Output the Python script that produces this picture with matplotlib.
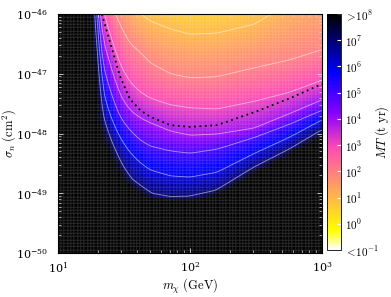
import numpy as np
import matplotlib
matplotlib.use('Agg')
import matplotlib.pyplot as plt
from matplotlib.colors import LogNorm

plt.rcParams['mathtext.fontset'] = 'cm'
plt.rcParams['font.family'] = 'serif'
plt.rcParams['font.serif'] = ['DejaVu Serif']

# exposure levels, log10(MT / t yr)
levels = [-1, 0, 1, 2, 3, 4, 5, 6, 7, 8]

# WIMP masses (GeV) where the iso-exposure curves were read
mass = [10, 18.5, 19.7, 21.5, 24.8, 29.5, 35, 42, 50, 71, 100, 160, 310, 570, 1000]

# log10(sigma_n / cm^2) of each iso-exposure curve, one row per mass, one column per level
iso_sigma = [
    [-37.40, -37.73, -38.07, -38.40, -38.74, -39.07, -39.41, -39.74, -40.08, -40.75],
    [-40.41, -41.41, -42.42, -43.26, -43.76, -44.09, -44.34, -44.59, -44.85, -45.10],
    [-41.75, -42.75, -43.76, -44.76, -45.26, -45.60, -45.85, -46.10, -46.35, -46.60],
    [-42.25, -43.26, -44.26, -45.26, -45.85, -46.35, -46.77, -47.19, -47.69, -47.85],
    [-42.92, -43.93, -44.85, -45.77, -46.35, -46.85, -47.27, -47.69, -48.11, -48.25],
    [-43.51, -44.51, -45.52, -46.18, -46.85, -47.36, -47.72, -48.06, -48.49, -48.60],
    [-43.76, -44.76, -45.77, -46.49, -47.14, -47.61, -47.94, -48.31, -48.75, -48.85],
    [-44.01, -45.01, -46.00, -46.64, -47.31, -47.74, -48.11, -48.49, -48.88, -48.97],
    [-44.18, -45.18, -46.12, -46.82, -47.41, -47.82, -48.21, -48.61, -49.00, -49.08],
    [-44.43, -45.43, -46.25, -47.00, -47.52, -47.96, -48.29, -48.71, -49.06, -49.14],
    [-44.51, -45.52, -46.34, -47.07, -47.57, -48.03, -48.33, -48.73, -49.05, -49.13],
    [-44.49, -45.50, -46.32, -47.05, -47.59, -48.01, -48.26, -48.65, -48.95, -49.03],
    [-44.26, -45.26, -46.17, -46.90, -47.46, -47.91, -48.06, -48.33, -48.56, -48.65],
    [-43.84, -44.85, -45.80, -46.77, -47.31, -47.67, -47.84, -48.06, -48.26, -48.35],
    [-43.42, -44.43, -45.43, -46.60, -47.11, -47.44, -47.61, -47.77, -47.94, -48.03],
]

# dotted reference curve
dot_mass = [21.5, 24.8, 29.5, 35, 42, 50, 71, 100, 160, 310, 570, 1000]
dot_sigma = [-46.00, -46.47, -47.04, -47.42, -47.61, -47.72, -47.86, -47.89,
             -47.86, -47.64, -47.41, -47.17]

logm_tab = np.log10(mass)
sig_tab = np.array(iso_sigma)

# log10(MT) on a fine grid, lightly smoothed along mass to round off the kinks
gx = np.linspace(0.9, 3.1, 881)
gy = np.linspace(-50.2, -45.8, 441)
grid = np.empty((len(gy), len(gx)))
for j, lm in enumerate(gx):
    col = np.array([np.interp(lm, logm_tab, sig_tab[:, k]) for k in range(len(levels))])
    grid[:, j] = np.interp(-gy, -col, levels)
win = np.ones(25) / 25
grid = np.array([np.convolve(row, win, mode='same') for row in grid])


def field(logm, logs):
    rows = np.array([np.interp(logm, gx, grid[i]) for i in range(len(gy))])
    return np.array([np.interp(logs, gy, rows[:, j]) for j in range(len(logm))]).T


# coarse mesh for the colour map
xe = np.linspace(1, 3, 81)
ye = np.linspace(-50, -46, 73)
xc = 0.5 * (xe[1:] + xe[:-1])
yc = 0.5 * (ye[1:] + ye[:-1])
Z = 10 ** field(xc, yc)

# fine mesh for the contour lines
xf = np.linspace(1, 3, 400)
yf = np.linspace(-50, -46, 400)
Zf = field(xf, yf)

fig = plt.figure(figsize=(3.91, 2.97), dpi=100)
ax = fig.add_axes([0.148, 0.148, 0.676, 0.805])
cax = fig.add_axes([0.836, 0.158, 0.036, 0.795])

norm = LogNorm(vmin=1e-1, vmax=1e8)
mesh = ax.pcolormesh(10 ** xe, 10 ** ye, Z, cmap='gnuplot2_r', norm=norm,
                     edgecolors=(1, 1, 1, 0.06), linewidth=0.3)
ax.contour(10 ** xf, 10 ** yf, Zf, levels=[1, 2, 3, 4, 5, 6, 7],
           colors='white', linewidths=0.65, alpha=0.5)
ax.plot(dot_mass, 10 ** np.array(dot_sigma), color='black', lw=1.3,
        linestyle=(0, (1, 2)))

ax.set_xscale('log')
ax.set_yscale('log')
ax.set_xlim(10, 1000)
ax.set_ylim(1e-50, 1e-46)
ax.set_xticks([10, 100, 1000])
ax.set_yticks([1e-50, 1e-49, 1e-48, 1e-47, 1e-46])
ax.set_xlabel(r'$m_\chi\ (\mathrm{GeV})$', fontsize=9)
ax.set_ylabel(r'$\sigma_n\ (\mathrm{cm}^2)$', fontsize=9)
ax.xaxis.set_label_coords(0.5, -0.1)
ax.yaxis.set_label_coords(-0.15, 0.5)
ax.tick_params(which='both', direction='in', top=True, right=True,
               color='0.85', labelsize=8)
ax.tick_params(which='major', length=3.5, width=0.6)
ax.tick_params(axis='y', which='major', pad=7)
ax.tick_params(axis='x', which='major', pad=5)
ax.tick_params(which='minor', length=2, width=0.5)

cb = fig.colorbar(mesh, cax=cax)
cb.outline.set_linewidth(0.6)
cticks = [10.0 ** k for k in range(-1, 9)]
cb.set_ticks(cticks)
clabels = [r'$<\!10^{-1}$'] + [r'$10^{%d}$' % k for k in range(0, 8)] + [r'$>\!10^{8}$']
cb.set_ticklabels(clabels)
cb.ax.minorticks_off()
cb.ax.tick_params(direction='in', color='white', length=3, labelsize=8, pad=3)
cb.set_label(r'$MT\ (\mathrm{t\ yr})$', fontsize=9)
cb.ax.yaxis.set_label_coords(3.3, 0.5)

fig.savefig('out.png', dpi=100)
